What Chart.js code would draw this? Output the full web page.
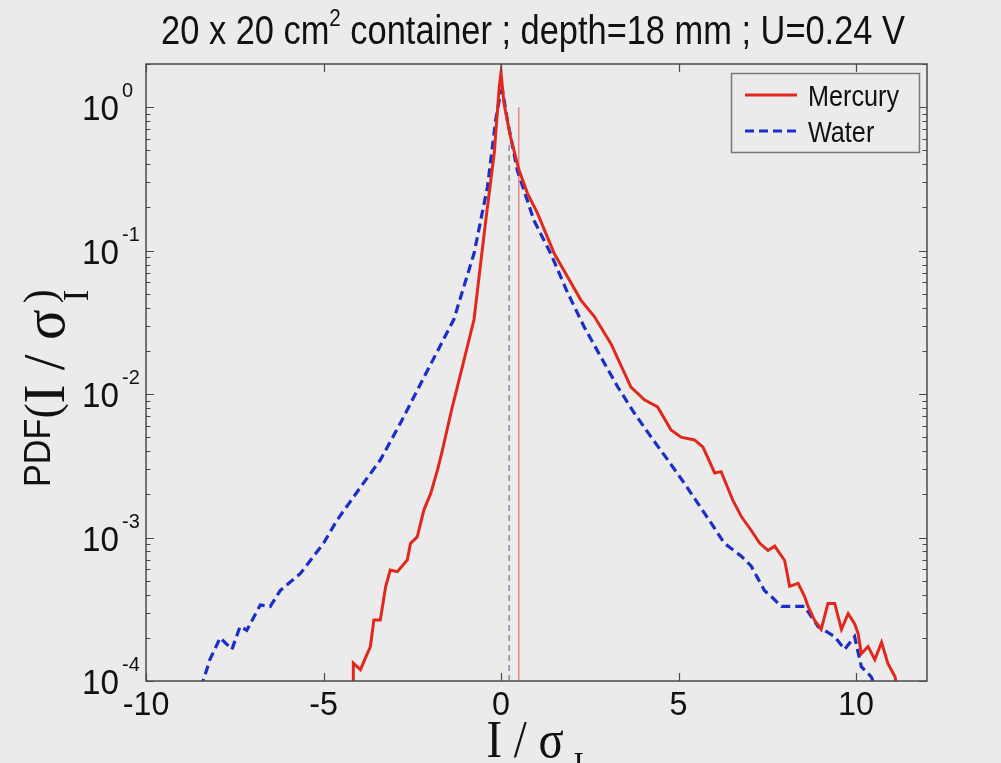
<!DOCTYPE html>
<html>
<head>
<meta charset="utf-8">
<script src="https://cdn.jsdelivr.net/npm/chart.js@4/dist/chart.umd.min.js"></script>
<style>
html,body{margin:0;padding:0;background:#ebebeb;}
canvas{display:block;}
</style>
</head>
<body>
<canvas id="c" width="1001" height="763"></canvas>
<script>
// ---- data ----
const mercuryX = [-4.16,-4.16,-3.96,-3.68,-3.58,-3.40,-3.25,-3.12,-2.92,-2.64,-2.55,-2.36,-2.17,-1.98,-1.79,-1.65,-1.40,-1.10,-0.76,-0.43,-0.19,-0.05,0.0,0.085,0.27,0.51,0.745,1.03,1.5,1.87,2.25,2.63,3.10,3.66,4.04,4.41,4.79,5.07,5.45,5.69,6.02,6.2,6.53,6.77,7.05,7.29,7.52,7.71,7.99,8.13,8.37,8.55,8.65,8.83,9.02,9.21,9.40,9.59,9.78,9.96,10.06,10.15,10.34,10.53,10.72,10.9,11.1,11.15];
const mercuryPDF = [0.00009,1.33e-4,1.2e-4,1.74e-4,2.66e-4,2.66e-4,4.54e-4,5.94e-4,5.78e-4,6.97e-4,9.1e-4,1.01e-3,1.56e-3,2.03e-3,2.95e-3,4.07e-3,7.6e-3,1.51e-2,3.31e-2,0.162,0.479,1.38,1.74,1.06,0.617,0.363,0.251,0.182,0.0955,0.066,0.0452,0.0347,0.0224,0.0112,0.00912,0.00813,0.00562,0.00501,0.00479,0.00427,0.00282,0.00288,0.00182,0.0014,0.00112,0.000912,0.000813,0.000871,0.000692,0.000457,0.000479,0.000389,0.000331,0.000266,0.000229,0.000347,0.000347,0.000229,0.000295,0.000251,0.000214,0.000155,0.000174,0.000141,0.000186,0.000132,0.000107,0.00009];
const waterX = [-8.45,-8.2,-7.91,-7.58,-7.35,-7.16,-6.78,-6.5,-6.22,-5.65,-5.0,-4.62,-3.96,-3.4,-2.83,-2.0,-1.33,-0.76,-0.38,-0.15,0.0,0.04,0.18,0.46,0.93,1.4,1.87,2.34,2.81,3.29,3.75,4.23,4.70,5.16,5.54,5.92,6.29,6.77,7.05,7.42,7.61,7.9,8.27,8.55,8.93,9.40,9.68,9.96,10.15,10.43,10.55];
const waterPDF = [0.00009,1.41e-4,2.0e-4,1.66e-4,2.4e-4,2.26e-4,3.39e-4,3.31e-4,4.27e-4,5.62e-4,9.12e-4,1.32e-3,2.24e-3,3.47e-3,6.3e-3,0.0158,0.0331,0.0955,0.279,0.813,1.31,1.32,0.813,0.363,0.162,0.0955,0.0513,0.0295,0.0182,0.0112,0.00741,0.00501,0.00347,0.0024,0.00174,0.00126,0.000912,0.000741,0.000631,0.000427,0.000389,0.000331,0.000331,0.000331,0.00024,0.000204,0.000166,0.000204,0.000126,0.000107,0.00009];
const meanMercury = 0.5, meanMercuryTop = 1.0;
const meanWater = 0.23, meanWaterTop = 0.56;
const xTicks = [-10,-5,0,5,10];
const yDecades = [-4,-3,-2,-1,0];
const seriesNames = ['Mercury','Water'];
const titleParts = ['20 x 20 cm','2',' container ; depth=18 mm ; U=0.24 V'];

const RED = '#e2281c', BLUE = '#1b2fc8', BG = '#ebebeb', AX = '#4a4a4a';

function txt(ctx, s, x, y, font, sx, align, base){
  ctx.save();
  ctx.font = font; ctx.textBaseline = base || 'alphabetic'; ctx.textAlign = 'left';
  const w = ctx.measureText(s).width * sx;
  let x0 = x;
  if (align === 'center') x0 = x - w/2; else if (align === 'right') x0 = x - w;
  ctx.translate(x0, y); ctx.scale(sx, 1);
  ctx.fillText(s, 0, 0);
  ctx.restore();
  return w;
}
function width(ctx, s, font, sx){ ctx.save(); ctx.font = font; const w = ctx.measureText(s).width*sx; ctx.restore(); return w; }

const deco = {
  id: 'deco',
  beforeDraw(chart){
    const ctx = chart.ctx; ctx.save(); ctx.fillStyle = BG; ctx.fillRect(0,0,chart.width,chart.height); ctx.restore();
  },
  afterDatasetsDraw(chart){
    const ctx = chart.ctx, a = chart.chartArea, xs = chart.scales.x, ys = chart.scales.y;
    ctx.save();
    // frame
    ctx.strokeStyle = AX; ctx.lineWidth = 1.5;
    ctx.strokeRect(a.left, a.top, a.right - a.left, a.bottom - a.top);
    ctx.lineWidth = 1.2;
    // x ticks
    xTicks.forEach(v => {
      const px = Math.round(xs.getPixelForValue(v)) + 0.5;
      ctx.beginPath(); ctx.moveTo(px, a.bottom); ctx.lineTo(px, a.bottom - 8);
      ctx.moveTo(px, a.top); ctx.lineTo(px, a.top + 8); ctx.stroke();
    });
    // y ticks
    yDecades.forEach(d => {
      for (let m = 1; m <= 9; m++) {
        const v = m * Math.pow(10, d);
        if (v > ys.max || v < ys.min) continue;
        const py = Math.round(ys.getPixelForValue(v)) + 0.5;
        const L = m === 1 ? 8 : 4.5;
        ctx.beginPath(); ctx.moveTo(a.left, py); ctx.lineTo(a.left + L, py);
        ctx.moveTo(a.right, py); ctx.lineTo(a.right - L, py); ctx.stroke();
      }
    });
    // tick labels
    ctx.fillStyle = '#111';
    xTicks.forEach(v => {
      txt(ctx, String(v), xs.getPixelForValue(v), a.bottom + 34, '34px "Liberation Sans"', 0.95, 'center');
    });
    yDecades.forEach(d => {
      const py = ys.getPixelForValue(Math.pow(10, d));
      txt(ctx, '10', a.left - 27, py + 13, '35px "Liberation Sans"', 0.95, 'right');
      txt(ctx, String(d), a.left - 24, py - 10, '21px "Liberation Sans"', 0.95, 'left');
    });
    // title
    const fT = '40px "Liberation Sans"', fS = '24px "Liberation Sans"', sxT = 0.86;
    const w1 = width(ctx, titleParts[0], fT, sxT), w2 = width(ctx, titleParts[1], fS, sxT), w3 = width(ctx, titleParts[2], fT, sxT);
    let tx = 533 - (w1 + w2 + w3)/2;
    txt(ctx, titleParts[0], tx, 44, fT, sxT, 'left'); tx += w1;
    txt(ctx, titleParts[1], tx, 26, fS, sxT, 'left'); tx += w2;
    txt(ctx, titleParts[2], tx, 44, fT, sxT, 'left');
    // x axis label
    const fSer = '52px "Liberation Serif"', fSub = '34px "Liberation Serif"';
    const wm = width(ctx, 'I / σ', fSer, 0.9);
    let lx = 525 - wm/2;
    txt(ctx, 'I / σ', lx, 757, fSer, 0.9, 'left');
    txt(ctx, 'I', lx + wm + 10, 775, fSub, 0.9, 'left');
    // y axis label (rotated)
    ctx.save();
    ctx.translate(50, 487); ctx.rotate(-Math.PI/2);
    const fP = '36px "Liberation Sans"';
    let ox = txt(ctx, 'PDF', 0, 0, fP, 0.95, 'left');
    ox += txt(ctx, '(', ox, 8, '48px "Liberation Serif"', 0.95, 'left');
    const fSerY = '60px "Liberation Serif"';
    const wi = txt(ctx, 'I / σ', ox, 14, fSerY, 0.95, 'left');
    ox += wi + 8;
    txt(ctx, 'I', ox, 38, '36px "Liberation Serif"', 0.95, 'left');
    txt(ctx, ')', ox - 2, 4, '44px "Liberation Serif"', 0.95, 'left');
    ctx.restore();
    // legend
    const lb = {x: 731, y: 73, w: 188, h: 79};
    ctx.fillStyle = BG; ctx.fillRect(lb.x, lb.y, lb.w, lb.h);
    ctx.strokeStyle = '#777'; ctx.lineWidth = 1.5; ctx.strokeRect(lb.x + 0.5, lb.y + 0.5, lb.w, lb.h);
    const ds = chart.data.datasets;
    [0,1].forEach(i => {
      const yy = lb.y + 22 + i * 36;
      ctx.strokeStyle = ds[i].borderColor; ctx.lineWidth = ds[i].borderWidth;
      ctx.setLineDash(ds[i].borderDash || []);
      ctx.beginPath(); ctx.moveTo(lb.x + 14, yy); ctx.lineTo(lb.x + 66, yy); ctx.stroke();
      ctx.setLineDash([]);
      ctx.fillStyle = '#111';
      txt(ctx, ds[i].label, lb.x + 77, yy + 11, '30px "Liberation Sans"', 0.84, 'left');
    });
    ctx.restore();
  }
};

const toPts = (xa, ya) => xa.map((x, i) => ({x, y: ya[i]}));

new Chart(document.getElementById('c'), {
  type: 'line',
  data: {
    datasets: [
      {label: seriesNames[0], data: toPts(mercuryX, mercuryPDF), borderColor: RED, borderWidth: 3, pointRadius: 0, tension: 0},
      {label: seriesNames[1], data: toPts(waterX, waterPDF), borderColor: BLUE, borderWidth: 3.2, borderDash: [9, 5], pointRadius: 0, tension: 0},
      {label: 'mean water', data: [{x: meanWater, y: 1e-4}, {x: meanWater, y: meanWaterTop}], borderColor: '#8a8aa8', borderWidth: 1.5, borderDash: [6, 4], pointRadius: 0},
      {label: 'mean mercury', data: [{x: meanMercury, y: 1e-4}, {x: meanMercury, y: meanMercuryTop}], borderColor: '#e08a84', borderWidth: 1.5, pointRadius: 0}
    ]
  },
  options: {
    responsive: false, animation: false, devicePixelRatio: 1,
    layout: {padding: {left: 146, right: 74, top: 64, bottom: 82}},
    scales: {
      x: {type: 'linear', min: -10, max: 12, display: false},
      y: {type: 'logarithmic', min: 1e-4, max: 2, display: false}
    },
    plugins: {legend: {display: false}, tooltip: {enabled: false}, title: {display: false}}
  },
  plugins: [deco]
});
</script>
</body>
</html>
